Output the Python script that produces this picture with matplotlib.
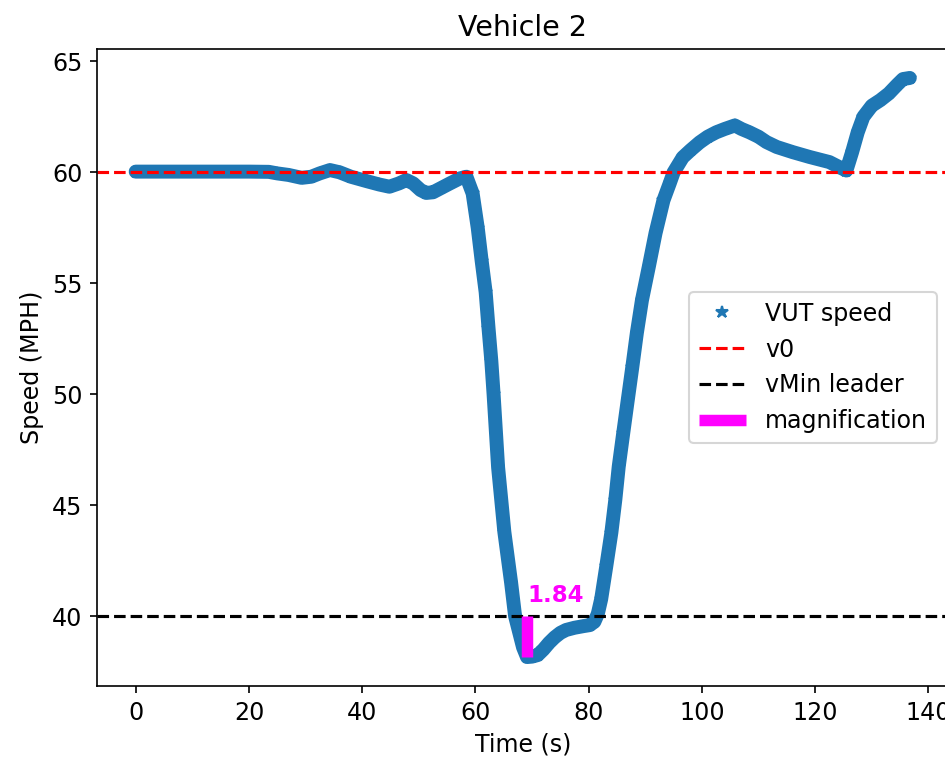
import matplotlib
matplotlib.use("Agg")
import matplotlib.pyplot as plt

# Data
time_s = [0, 5, 10, 15, 20, 23.5, 25, 27, 29.3, 31, 32.5, 34.3, 36, 38, 40.8, 43, 44.8,
          46.5, 47.8, 49, 50.3, 51.3, 52.5, 54, 55.5, 57.2, 58.4, 59.5, 60.4, 61.1, 61.8,
          62.3, 62.8, 63.2, 64.0, 65.1, 66.3, 67.0, 67.7, 68.4, 69.1, 70.0, 71.0, 72.0,
          73.0, 74.0, 75.0, 76.0, 77.5, 79.0, 80.2, 81.0, 81.6, 82.2, 83.1, 84.0, 84.7,
          85.3, 86.1, 86.9, 87.7, 88.5, 89.4, 90.6, 91.8, 93.2, 94.3, 95.0, 96.6, 98.0,
          99.6, 101.0, 102.5, 104.0, 105.8, 107.0, 108.4, 110.0, 111.4, 113.2, 116.0,
          119.0, 122.5, 124.5, 125.5, 126.5, 127.5, 128.5, 130.0, 131.5, 133.0, 134.5,
          135.5, 136.7]
speed_mph = [60.03, 60.03, 60.03, 60.03, 60.03, 60.02, 59.95, 59.88, 59.75, 59.8, 59.95,
             60.1, 60.0, 59.8, 59.6, 59.45, 59.35, 59.5, 59.65, 59.5, 59.2, 59.07, 59.1,
             59.3, 59.5, 59.72, 59.8, 59.05, 57.5, 56.0, 54.6, 53.0, 51.5, 50.0, 46.7,
             43.8, 41.5, 40.0, 39.3, 38.6, 38.16, 38.18, 38.25, 38.5, 38.8, 39.05, 39.25,
             39.38, 39.48, 39.55, 39.6, 39.75, 40.1, 40.77, 42.25, 43.77, 45.25, 46.74,
             48.26, 49.75, 51.23, 52.76, 54.24, 55.73, 57.26, 58.74, 59.5, 60.0, 60.67,
             61.0, 61.35, 61.6, 61.8, 61.95, 62.11, 61.95, 61.8, 61.6, 61.36, 61.14, 60.91,
             60.69, 60.46, 60.2, 60.08, 60.9, 61.8, 62.5, 63.0, 63.25, 63.55, 63.95, 64.2,
             64.25]
v0 = 60.0
v_min_leader = 40.0

plt.rcParams['font.size'] = 11.4

fig = plt.figure(figsize=(6.3, 763 / 150), dpi=150)
ax = fig.add_axes([97 / 945, 77 / 763, (948.5 - 97) / 945, (686 - 49) / 763])

# continuous band under the star markers
ax.plot(time_s, speed_mph, '-', color='#1f77b4', lw=6.7, solid_capstyle='round',
        solid_joinstyle='round')
ax.plot(time_s, speed_mph, '*', color='#1f77b4', markersize=6, label='VUT speed')
ax.axhline(v0, color='red', linestyle='--', label='v0')
ax.axhline(v_min_leader, color='black', linestyle='--', label='vMin leader')

i_min = speed_mph.index(min(speed_mph))
t_min = time_s[i_min]
v_min = speed_mph[i_min]
ax.plot([t_min, t_min], [v_min, v_min_leader], color='magenta', lw=5.5,
        solid_capstyle='butt', label='magnification')
ax.text(t_min, v_min_leader + 0.63, f"{v_min_leader - v_min:.2f}", color='magenta',
        fontweight='bold', fontsize=11, ha='left', va='baseline')

ax.set_title('Vehicle 2')
ax.set_xlabel('Time (s)')
ax.set_ylabel('Speed (MPH)')
ax.legend(loc='center right')

fig.savefig('out.png', dpi=150)
